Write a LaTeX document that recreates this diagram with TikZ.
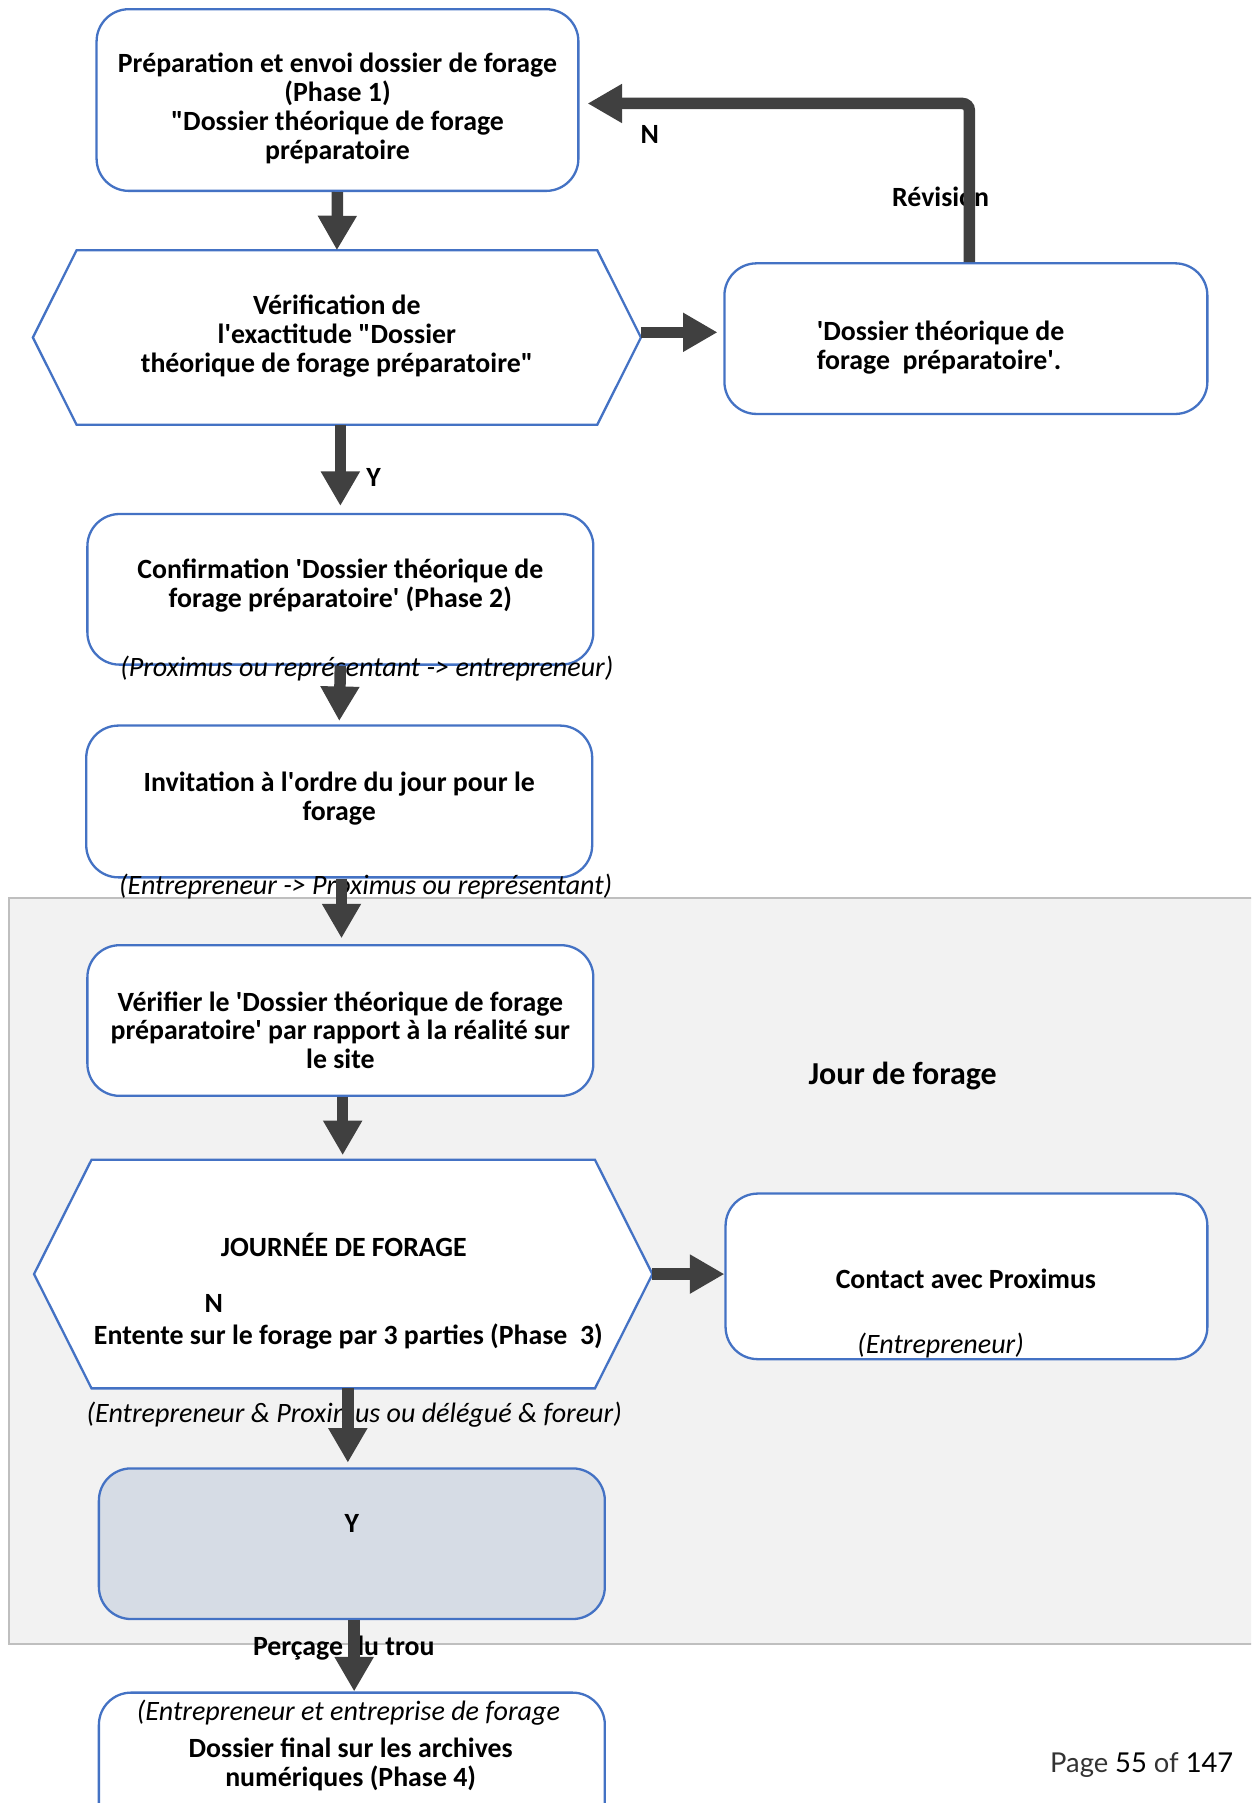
\documentclass[tikz,border=0pt]{standalone}
\usepackage{fontspec}
\setmainfont{Carlito}
\newfontfamily\pagefont{Lato}
\usetikzlibrary{arrows.meta,calc}
\definecolor{boxblue}{HTML}{4472C4}
\definecolor{arrgray}{HTML}{404040}
\definecolor{zonegray}{HTML}{F2F2F2}
\definecolor{zoneline}{HTML}{BFBFBF}
\definecolor{yfill}{HTML}{D6DCE5}
\newcommand{\sq}{\textquotesingle}
\newcommand{\dq}{\textquotedbl}
\begin{document}
\begin{tikzpicture}[x=0.5pt,y=-0.5pt,
  box/.style={draw=boxblue, line width=1pt, rounded corners=14pt, fill=white, inner sep=0pt},
  hexbox/.style={inner sep=0pt},
  hexline/.style={draw=boxblue, line width=1pt, fill=white},
  zone/.style={draw=zoneline, line width=0.8pt, fill=zonegray, inner sep=0pt},
  arr/.style={draw=arrgray, line width=5pt, -{Triangle[width=16pt,length=15pt]}},
  txt/.style={font=\bfseries\fontsize{12.1}{12.6}\selectfont, align=center, inner sep=0pt, yshift=-1pt},
  ital/.style={font=\itshape\fontsize{12.2}{12.6}\selectfont, inner sep=0pt, yshift=-1pt},
]
\fill[white] (0,0) rectangle (1088,1568);
\clip (0,0) rectangle (1088,1568);

% zone
\node[zone, minimum width=546pt, minimum height=324.5pt] (zone) at (554,1105.5) {};

% boxes
\node[box, minimum width=209.5pt, minimum height=79pt] (b1) at (293.5,87) {};
\node[box, minimum width=210pt, minimum height=65.5pt] (rb) at (840,294.5) {};
\node[box, minimum width=220pt, minimum height=65.5pt] (b2) at (296,512.5) {};
\node[box, minimum width=220pt, minimum height=66pt] (b3) at (295,697) {};
\node[box, minimum width=220pt, minimum height=65.5pt] (b4) at (296,887.5) {};
\node[box, minimum width=209.5pt, minimum height=72pt] (cb) at (840.5,1110) {};
\node[box, fill=yfill, minimum width=220pt, minimum height=65.5pt] (by) at (306,1342.5) {};
\node[box, minimum width=220pt, minimum height=65.5pt] (bf) at (306,1537.5) {};

% hexagons
\node[hexbox, minimum width=264pt, minimum height=75.5pt] (h1) at (293,293.5) {};
\draw[hexline] (h1.west) -- ([xshift=19pt]h1.north west) -- ([xshift=-19pt]h1.north east)
  -- (h1.east) -- ([xshift=-19pt]h1.south east) -- ([xshift=19pt]h1.south west) -- cycle;
\node[hexbox, minimum width=268.5pt, minimum height=99pt] (h2) at (298.5,1108) {};
\draw[hexline] (h2.west) -- ([xshift=25pt]h2.north west) -- ([xshift=-25pt]h2.north east)
  -- (h2.east) -- ([xshift=-25pt]h2.south east) -- ([xshift=25pt]h2.south west) -- cycle;

% texts
\node[txt] (t1) at (293.5,92.5) {Préparation et envoi dossier de forage\\(Phase 1)\\\dq Dossier théorique de forage\\préparatoire};
\node[txt] (th1) at (293,290) {Vérification de\\l\sq exactitude \dq Dossier\\théorique de forage préparatoire\dq};
\node[txt, align=left] (trb) at (818,300) {\sq Dossier théorique de\\forage\ \ préparatoire\sq .};
\node[txt] (t2) at (296,507) {Confirmation \sq Dossier théorique de\\forage préparatoire\sq{} (Phase 2)};
\node[ital] (l2) at (319,579) {(Proximus ou représentant -> entrepreneur)};
\node[txt] (t3) at (295,692.5) {Invitation à l\sq ordre du jour pour le\\forage};
\node[ital] (l3) at (318,769) {(Entrepreneur -> Proximus ou représentant)};
\node[txt] (t4) at (296,894) {Vérifier le \sq Dossier théorique de forage\\préparatoire\sq{} par rapport à la réalité sur\\le site};
\node[txt, font=\bfseries\fontsize{13.9}{15}\selectfont] (jour) at (785,934) {Jour de forage};
\node[txt] (th2a) at (299,1081) {JOURNÉE DE FORAGE};
\node[txt] (th2n) at (186,1132) {N};
\node[txt] (th2b) at (303,1160) {Entente sur le forage par 3 parties (Phase\ \ 3)};
\node[txt] (tc) at (840,1110) {Contact avec Proximus};
\node[ital] (lc) at (818,1168) {(Entrepreneur)};
\node[ital] (lh2) at (308,1228) {(Entrepreneur \& Proximus ou délégué \& foreur)};
\node[txt] (ty) at (306,1323) {Y};
\node[txt] (perc) at (299,1431) {Perçage du trou};
\node[ital] (lf) at (303,1487) {(Entrepreneur et entreprise de forage};
\node[txt] (tf) at (305,1532.5) {Dossier final sur les archives\\numériques (Phase 4)};
\node[txt] (nlab) at (565,115) {N};
\node[txt] (ylab) at (325,413) {Y};
\node[txt] (rev) at (818,169) {Révision};
\node[anchor=east, inner sep=0pt, font=\pagefont\fontsize{11.9}{14}\selectfont] (page) at (1073,1535) {{\color{black!80}Page} 55 {\color{black!80}of} 147};

% arrows
\draw[arr] (b1.south) -- (h1.north);
\draw[arr, shorten >=2.5pt] ([yshift=2.25pt]h1.east) -- ([yshift=2.25pt]h1.east -| rb.west);
\draw[arr, rounded corners=3pt, shorten >=3.5pt] ([xshift=1.5pt]rb.north) |- ([yshift=-1.5pt]b1.east);
\draw[arr, shorten >=3pt] (b2.north |- h1.south) -- (b2.north);
\draw[arr, shorten >=1.5pt] (b2.south) -- (b3.north);
\draw[arr, shorten >=2.5pt] ([xshift=1pt]b3.south) -- ([xshift=1pt]b3.south |- b4.north);
\draw[arr, shorten >=2pt] ([xshift=1pt]b4.south) -- ([xshift=1pt]b4.south |- h2.north);
\draw[arr] (h2.east) -- (h2.east -| cb.west);
\draw[arr, shorten >=2pt] ([xshift=2pt]h2.south) -- ([xshift=2pt]h2.south |- by.north);
\draw[arr] ([xshift=1pt]by.south) -- ([xshift=1pt]by.south |- bf.north);
\end{tikzpicture}
\end{document}
